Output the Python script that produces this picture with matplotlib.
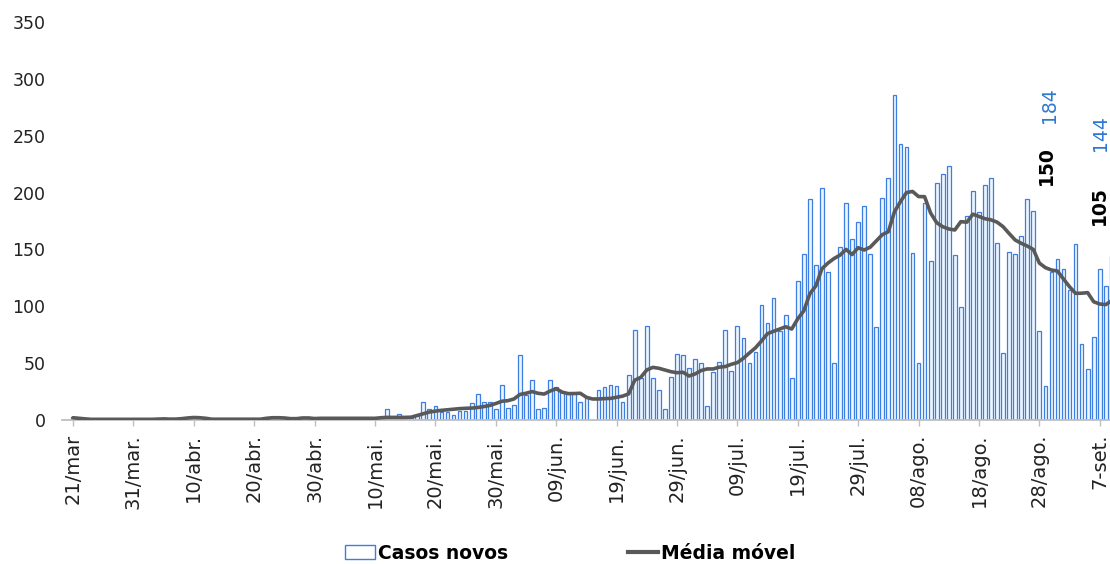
import numpy as np
import pandas as pd
import matplotlib
matplotlib.use('Agg')
import matplotlib.pyplot as plt
from matplotlib.patches import Patch
from matplotlib.lines import Line2D

plt.rcParams['font.family'] = ['DejaVu Sans']

# ── Dados: casos novos por dia e média móvel (21/mar a 09/set) ────────────────
casos_novos = [
    3, 1, 0, 0, 0, 0, 0, 0, 0, 0,
    0, 0, 0, 0, 1, 2, 1, 0, 1, 2,
    3, 2, 1, 0, 0, 0, 0, 0, 0, 0,
    1, 0, 2, 3, 2, 2, 1, 0, 2, 3,
    1, 1, 2, 1, 1, 2, 1, 2, 1, 2,
    1, 2, 10, 2, 5, 3, 2, 4, 16, 10,
    12, 7, 7, 4, 8, 8, 15, 23, 16, 16,
    10, 31, 11, 13, 57, 22, 35, 10, 11, 35,
    29, 25, 24, 24, 16, 19, 0, 26, 29, 31,
    30, 16, 40, 79, 37, 83, 37, 26, 10, 38,
    58, 57, 46, 54, 50, 12, 42, 51, 79, 43,
    83, 72, 50, 60, 101, 85, 107, 78, 92, 37,
    122, 146, 194, 136, 204, 130, 50, 152, 191, 159,
    174, 188, 146, 82, 195, 213, 286, 243, 240, 147,
    50, 191, 140, 208, 216, 223, 145, 99, 179, 201,
    183, 207, 213, 156, 59, 148, 146, 162, 194, 184,
    78, 30, 130, 142, 133, 114, 155, 67, 45, 73,
    133, 118, 144,
]

media_movel = [
    2.0, 1.5, 1.0, 0.6, 0.6, 0.6, 0.6, 0.6, 0.6, 0.6,
    0.6, 0.6, 0.6, 0.6, 0.8, 1.0, 0.8, 0.8, 1.2, 1.8,
    2.2, 2.0, 1.5, 0.7, 0.7, 0.7, 0.7, 0.7, 0.7, 0.7,
    0.7, 0.7, 1.5, 2.0, 2.0, 1.8, 1.2, 1.2, 1.8, 1.8,
    1.3, 1.5, 1.5, 1.5, 1.5, 1.5, 1.5, 1.5, 1.5, 1.5,
    1.5, 2.0, 2.3, 2.3, 2.3, 2.3, 2.5, 4.0, 5.5, 7.0,
    7.8, 8.5, 9.0, 9.5, 10.0, 10.3, 10.5, 11.0, 11.8, 12.8,
    14.5, 16.5, 17.0, 18.5, 22.5, 23.5, 25.0, 23.5, 22.8, 25.5,
    27.5, 24.5, 23.2, 23.3, 23.5, 20.0, 18.5, 18.5, 18.8, 19.0,
    20.0, 21.0, 23.0, 35.0, 37.5, 44.0, 46.3, 45.5, 44.0, 42.5,
    41.6, 42.0, 38.7, 40.5, 43.5, 44.9, 44.9, 46.5, 47.0, 49.0,
    50.5, 54.3, 59.0, 63.5, 69.5, 76.0, 78.0, 80.0, 82.0, 80.0,
    89.0, 96.0, 111.0, 118.0, 133.0, 138.0, 142.0, 145.0, 150.0, 145.5,
    151.5, 149.5, 152.0, 157.5, 163.0, 165.6, 183.0, 192.0, 200.0, 201.0,
    196.5, 196.4, 182.0, 173.5, 170.0, 168.0, 167.1, 174.4, 174.0, 181.0,
    179.0, 177.0, 176.0, 174.0, 170.0, 164.0, 158.3, 155.4, 153.0, 150.0,
    138.0, 134.0, 131.9, 131.0, 124.0, 117.2, 111.4, 111.5, 112.0, 104.0,
    102.0, 101.5, 105.0,
]

tick_labels = ['21/mar', '31/mar.', '10/abr.', '20/abr.', '30/abr.', '10/mai.',
               '20/mai.', '30/mai.', '09/jun.', '19/jun.', '29/jun.', '09/jul.',
               '19/jul.', '29/jul.', '08/ago.', '18/ago.', '28/ago.', '7-set.']

# pontos com rótulo de valor (índice do dia)
dia_rotulo_1 = 159
dia_rotulo_2 = len(casos_novos) - 1

datas = pd.date_range('2020-03-21', periods=len(casos_novos), freq='D')
x = np.arange(len(datas))

COR_BARRA = '#3D7FE0'
COR_LINHA = '#595959'

fig = plt.figure(figsize=(11.1, 5.64), dpi=100)
ax = fig.add_axes([0.0559, 0.2553, 0.9441, 0.7057])

ax.bar(x, casos_novos, width=0.62, color='#EEF4FD', edgecolor=COR_BARRA,
       linewidth=0.9, zorder=2)
ax.plot(x, media_movel, color=COR_LINHA, lw=2.6, zorder=3,
        solid_capstyle='round', solid_joinstyle='round')

# ── Eixos ─────────────────────────────────────────────────────────────────────
ax.set_xlim(-1.82, 171.7)
ax.set_ylim(0, 350)
ax.set_yticks(np.arange(0, 351, 50))
ax.tick_params(axis='y', length=0, pad=12, labelsize=12.5, labelcolor='#222222')

ax.set_xticks(x[::10][:len(tick_labels)])
ax.set_xticklabels(tick_labels, rotation=90, fontsize=14, color='#222222')
ax.tick_params(axis='x', length=4, width=1, color='#BFBFBF', pad=6)

for s in ['top', 'right', 'left']:
    ax.spines[s].set_visible(False)
ax.spines['bottom'].set_color('#BFBFBF')
ax.spines['bottom'].set_linewidth(1.3)

# ── Rótulos de valores ────────────────────────────────────────────────────────
i = dia_rotulo_1
ax.text(i + 2.7, casos_novos[i] + 93, f'{casos_novos[i]}', rotation=90,
        ha='center', va='center', fontsize=13.5, color='#2E78D2', clip_on=False)
ax.text(i + 2.1, media_movel[i] + 74, f'{media_movel[i]:.0f}', rotation=90,
        ha='center', va='center', fontsize=13.5, fontweight='bold', color='black',
        clip_on=False)
i = dia_rotulo_2
ax.text(i - 1.9, casos_novos[i] + 108, f'{casos_novos[i]}', rotation=90,
        ha='center', va='center', fontsize=13.5, color='#2E78D2', clip_on=False)
ax.text(i - 2.0, media_movel[i] + 84, f'{media_movel[i]:.0f}', rotation=90,
        ha='center', va='center', fontsize=13.5, fontweight='bold', color='black',
        clip_on=False)

# ── Legenda ───────────────────────────────────────────────────────────────────
handles = [Patch(facecolor='white', edgecolor=COR_BARRA, linewidth=1.0),
           Line2D([0], [0], color=COR_LINHA, lw=3)]
fig.legend(handles, ['Casos novos', 'Média móvel'], loc='center',
           bbox_to_anchor=(0.5135, 0.0195), ncol=2, frameon=False,
           prop={'size': 13.5, 'weight': 'bold'}, handlelength=1.6,
           handleheight=0.8, handletextpad=0.15, columnspacing=6.4)

fig.savefig('out.png', dpi=100)
plt.close()
